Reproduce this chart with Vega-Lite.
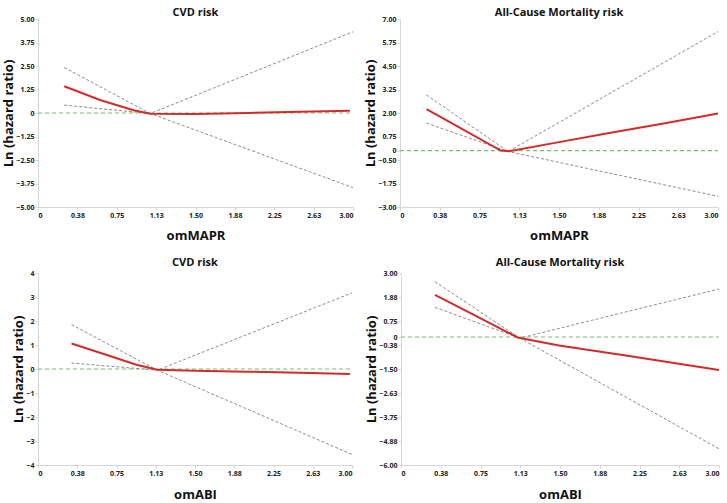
{
  "$schema": "https://vega.github.io/schema/vega-lite/v6.json",
  "background": "white",
  "padding": {"left": 2, "top": 7, "right": 0, "bottom": 0},
  "config": {
    "view": {"stroke": null},
    "font": "Open Sans",
    "title": {"font": "Open Sans", "fontSize": 11, "fontWeight": "bold", "color": "#111", "offset": -3},
    "axis": {
      "grid": false,
      "domainColor": "#d6d6d6",
      "tickColor": "#d6d6d6",
      "tickSize": 3,
      "labelPadding": 1,
      "labelFont": "Open Sans",
      "labelFontSize": 7,
      "labelFontWeight": "bold",
      "labelColor": "#222",
      "titleFont": "Open Sans",
      "titleFontSize": 13,
      "titleFontWeight": "bold",
      "titleColor": "#111"
    }
  },
  "data": {"values": [
    {"p": "A", "s": "ref", "x": 0, "y": 0}, {"p": "A", "s": "ref", "x": 3, "y": 0},
    {"p": "A", "s": "hr", "x": 0.25, "y": 1.42}, {"p": "A", "s": "hr", "x": 0.59, "y": 0.69}, {"p": "A", "s": "hr", "x": 0.91, "y": 0.15}, {"p": "A", "s": "hr", "x": 1.07, "y": -0.04}, {"p": "A", "s": "hr", "x": 1.5, "y": -0.05}, {"p": "A", "s": "hr", "x": 2.0, "y": 0.0}, {"p": "A", "s": "hr", "x": 2.5, "y": 0.06}, {"p": "A", "s": "hr", "x": 2.97, "y": 0.12},
    {"p": "A", "s": "upper", "x": 0.25, "y": 2.42}, {"p": "A", "s": "upper", "x": 1.07, "y": -0.03}, {"p": "A", "s": "upper", "x": 3.0, "y": 4.32},
    {"p": "A", "s": "lower", "x": 0.25, "y": 0.42}, {"p": "A", "s": "lower", "x": 1.07, "y": -0.03}, {"p": "A", "s": "lower", "x": 3.0, "y": -3.97},

    {"p": "B", "s": "ref", "x": 0, "y": 0}, {"p": "B", "s": "ref", "x": 3, "y": 0},
    {"p": "B", "s": "hr", "x": 0.25, "y": 2.2}, {"p": "B", "s": "hr", "x": 0.95, "y": 0.0}, {"p": "B", "s": "hr", "x": 1.03, "y": -0.04}, {"p": "B", "s": "hr", "x": 1.5, "y": 0.45}, {"p": "B", "s": "hr", "x": 2.0, "y": 0.96}, {"p": "B", "s": "hr", "x": 2.5, "y": 1.46}, {"p": "B", "s": "hr", "x": 3.0, "y": 1.97},
    {"p": "B", "s": "upper", "x": 0.25, "y": 2.96}, {"p": "B", "s": "upper", "x": 1.02, "y": -0.05}, {"p": "B", "s": "upper", "x": 3.0, "y": 6.33},
    {"p": "B", "s": "lower", "x": 0.25, "y": 1.46}, {"p": "B", "s": "lower", "x": 1.02, "y": -0.05}, {"p": "B", "s": "lower", "x": 3.0, "y": -2.43},

    {"p": "C", "s": "ref", "x": 0, "y": 0}, {"p": "C", "s": "ref", "x": 3, "y": 0},
    {"p": "C", "s": "hr", "x": 0.32, "y": 1.06}, {"p": "C", "s": "hr", "x": 0.68, "y": 0.55}, {"p": "C", "s": "hr", "x": 0.94, "y": 0.18}, {"p": "C", "s": "hr", "x": 1.14, "y": -0.03}, {"p": "C", "s": "hr", "x": 1.5, "y": -0.07}, {"p": "C", "s": "hr", "x": 2.0, "y": -0.11}, {"p": "C", "s": "hr", "x": 2.5, "y": -0.16}, {"p": "C", "s": "hr", "x": 2.98, "y": -0.21},
    {"p": "C", "s": "upper", "x": 0.32, "y": 1.85}, {"p": "C", "s": "upper", "x": 1.14, "y": -0.05}, {"p": "C", "s": "upper", "x": 3.0, "y": 3.17},
    {"p": "C", "s": "lower", "x": 0.32, "y": 0.25}, {"p": "C", "s": "lower", "x": 1.14, "y": -0.05}, {"p": "C", "s": "lower", "x": 3.0, "y": -3.56},

    {"p": "D", "s": "ref", "x": 0, "y": 0}, {"p": "D", "s": "ref", "x": 3, "y": 0},
    {"p": "D", "s": "hr", "x": 0.32, "y": 1.97}, {"p": "D", "s": "hr", "x": 0.72, "y": 0.95}, {"p": "D", "s": "hr", "x": 1.1, "y": -0.02}, {"p": "D", "s": "hr", "x": 1.49, "y": -0.4}, {"p": "D", "s": "hr", "x": 2.12, "y": -0.87}, {"p": "D", "s": "hr", "x": 3.0, "y": -1.55},
    {"p": "D", "s": "upper", "x": 0.32, "y": 2.59}, {"p": "D", "s": "upper", "x": 1.12, "y": -0.05}, {"p": "D", "s": "upper", "x": 3.0, "y": 2.25},
    {"p": "D", "s": "lower", "x": 0.32, "y": 1.39}, {"p": "D", "s": "lower", "x": 1.12, "y": -0.05}, {"p": "D", "s": "lower", "x": 3.0, "y": -5.24}
  ]},
  "vconcat": [
    {
      "hconcat": [
        {
          "width": 315, "height": 188,
          "title": "CVD risk",
          "transform": [{"filter": "datum.p == 'A'"}],
          "encoding": {
            "x": {"field": "x", "type": "quantitative", "scale": {"domain": [0, 3], "nice": false},
                  "axis": {"title": "omMAPR", "titlePadding": 11, "values": [0, 0.375, 0.75, 1.125, 1.5, 1.875, 2.25, 2.625, 3], "labelExpr": "datum.value == 0 ? '0' : format(datum.value, '.2f')"}},
            "y": {"field": "y", "type": "quantitative", "scale": {"domain": [-5, 5], "nice": false},
                  "axis": {"title": "Ln (hazard ratio)", "titlePadding": 0, "values": [-5, -3.75, -2.5, -1.25, 0, 1.25, 2.5, 3.75, 5], "labelExpr": "datum.value == 0 ? '0' : format(datum.value, '.2f')"}}
          },
          "layer": [
            {"transform": [{"filter": "datum.s == 'ref'"}], "mark": {"type": "line", "color": "#74c274", "strokeDash": [4, 3], "strokeWidth": 1.2}},
            {"transform": [{"filter": "datum.s == 'upper'"}], "mark": {"type": "line", "color": "#8c8c8c", "strokeDash": [3, 2], "strokeWidth": 1}},
            {"transform": [{"filter": "datum.s == 'lower'"}], "mark": {"type": "line", "color": "#8c8c8c", "strokeDash": [3, 2], "strokeWidth": 1}},
            {"transform": [{"filter": "datum.s == 'hr'"}], "mark": {"type": "line", "color": "#d42a2a", "strokeWidth": 2}}
          ]
        },
        {
          "width": 318, "height": 188,
          "title": "All-Cause Mortality  risk",
          "transform": [{"filter": "datum.p == 'B'"}],
          "encoding": {
            "x": {"field": "x", "type": "quantitative", "scale": {"domain": [0, 3], "nice": false},
                  "axis": {"title": "omMAPR", "titlePadding": 11, "values": [0, 0.375, 0.75, 1.125, 1.5, 1.875, 2.25, 2.625, 3], "labelExpr": "datum.value == 0 ? '0' : format(datum.value, '.2f')"}},
            "y": {"field": "y", "type": "quantitative", "scale": {"domain": [-3, 7], "nice": false},
                  "axis": {"title": "Ln (hazard ratio)", "titlePadding": 0, "values": [-3, -1.75, -0.5, 0, 0.75, 2, 3.25, 4.5, 5.75, 7], "labelExpr": "datum.value == 0 ? '0' : format(datum.value, '.2f')"}}
          },
          "layer": [
            {"transform": [{"filter": "datum.s == 'ref'"}], "mark": {"type": "line", "color": "#74c274", "strokeDash": [4, 3], "strokeWidth": 1.2}},
            {"transform": [{"filter": "datum.s == 'upper'"}], "mark": {"type": "line", "color": "#8c8c8c", "strokeDash": [3, 2], "strokeWidth": 1}},
            {"transform": [{"filter": "datum.s == 'lower'"}], "mark": {"type": "line", "color": "#8c8c8c", "strokeDash": [3, 2], "strokeWidth": 1}},
            {"transform": [{"filter": "datum.s == 'hr'"}], "mark": {"type": "line", "color": "#d42a2a", "strokeWidth": 2}}
          ]
        }
      ],
      "spacing": 8
    },
    {
      "hconcat": [
        {
          "width": 314, "height": 192,
          "title": {"text": "CVD risk", "offset": 1},
          "transform": [{"filter": "datum.p == 'C'"}],
          "encoding": {
            "x": {"field": "x", "type": "quantitative", "scale": {"domain": [0, 3], "nice": false},
                  "axis": {"title": "omABI", "titlePadding": 12, "values": [0, 0.375, 0.75, 1.125, 1.5, 1.875, 2.25, 2.625, 3], "labelExpr": "datum.value == 0 ? '0' : format(datum.value, '.2f')"}},
            "y": {"field": "y", "type": "quantitative", "scale": {"domain": [-4, 4], "nice": false},
                  "axis": {"title": "Ln (hazard ratio)", "titlePadding": 0, "values": [-4, -3, -2, -1, 0, 1, 2, 3, 4], "format": "d"}}
          },
          "layer": [
            {"transform": [{"filter": "datum.s == 'ref'"}], "mark": {"type": "line", "color": "#74c274", "strokeDash": [4, 3], "strokeWidth": 1.2}},
            {"transform": [{"filter": "datum.s == 'upper'"}], "mark": {"type": "line", "color": "#8c8c8c", "strokeDash": [3, 2], "strokeWidth": 1}},
            {"transform": [{"filter": "datum.s == 'lower'"}], "mark": {"type": "line", "color": "#8c8c8c", "strokeDash": [3, 2], "strokeWidth": 1}},
            {"transform": [{"filter": "datum.s == 'hr'"}], "mark": {"type": "line", "color": "#d42a2a", "strokeWidth": 2}}
          ]
        },
        {
          "width": 318, "height": 192,
          "title": {"text": "All-Cause Mortality  risk", "offset": 1},
          "transform": [{"filter": "datum.p == 'D'"}],
          "encoding": {
            "x": {"field": "x", "type": "quantitative", "scale": {"domain": [0, 3], "nice": false},
                  "axis": {"title": "omABI", "titlePadding": 12, "values": [0, 0.375, 0.75, 1.125, 1.5, 1.875, 2.25, 2.625, 3], "labelExpr": "datum.value == 0 ? '0' : format(datum.value, '.2f')"}},
            "y": {"field": "y", "type": "quantitative", "scale": {"domain": [-6, 3], "nice": false},
                  "axis": {"title": "Ln (hazard ratio)", "titlePadding": 0, "values": [-6, -4.875, -3.75, -2.625, -1.5, -0.375, 0, 0.75, 1.875, 3], "labelExpr": "datum.value == 0 ? '0' : format(datum.value, '.2f')"}}
          },
          "layer": [
            {"transform": [{"filter": "datum.s == 'ref'"}], "mark": {"type": "line", "color": "#74c274", "strokeDash": [4, 3], "strokeWidth": 1.2}},
            {"transform": [{"filter": "datum.s == 'upper'"}], "mark": {"type": "line", "color": "#8c8c8c", "strokeDash": [3, 2], "strokeWidth": 1}},
            {"transform": [{"filter": "datum.s == 'lower'"}], "mark": {"type": "line", "color": "#8c8c8c", "strokeDash": [3, 2], "strokeWidth": 1}},
            {"transform": [{"filter": "datum.s == 'hr'"}], "mark": {"type": "line", "color": "#d42a2a", "strokeWidth": 2}}
          ]
        }
      ],
      "spacing": 10
    }
  ],
  "spacing": 15
}
